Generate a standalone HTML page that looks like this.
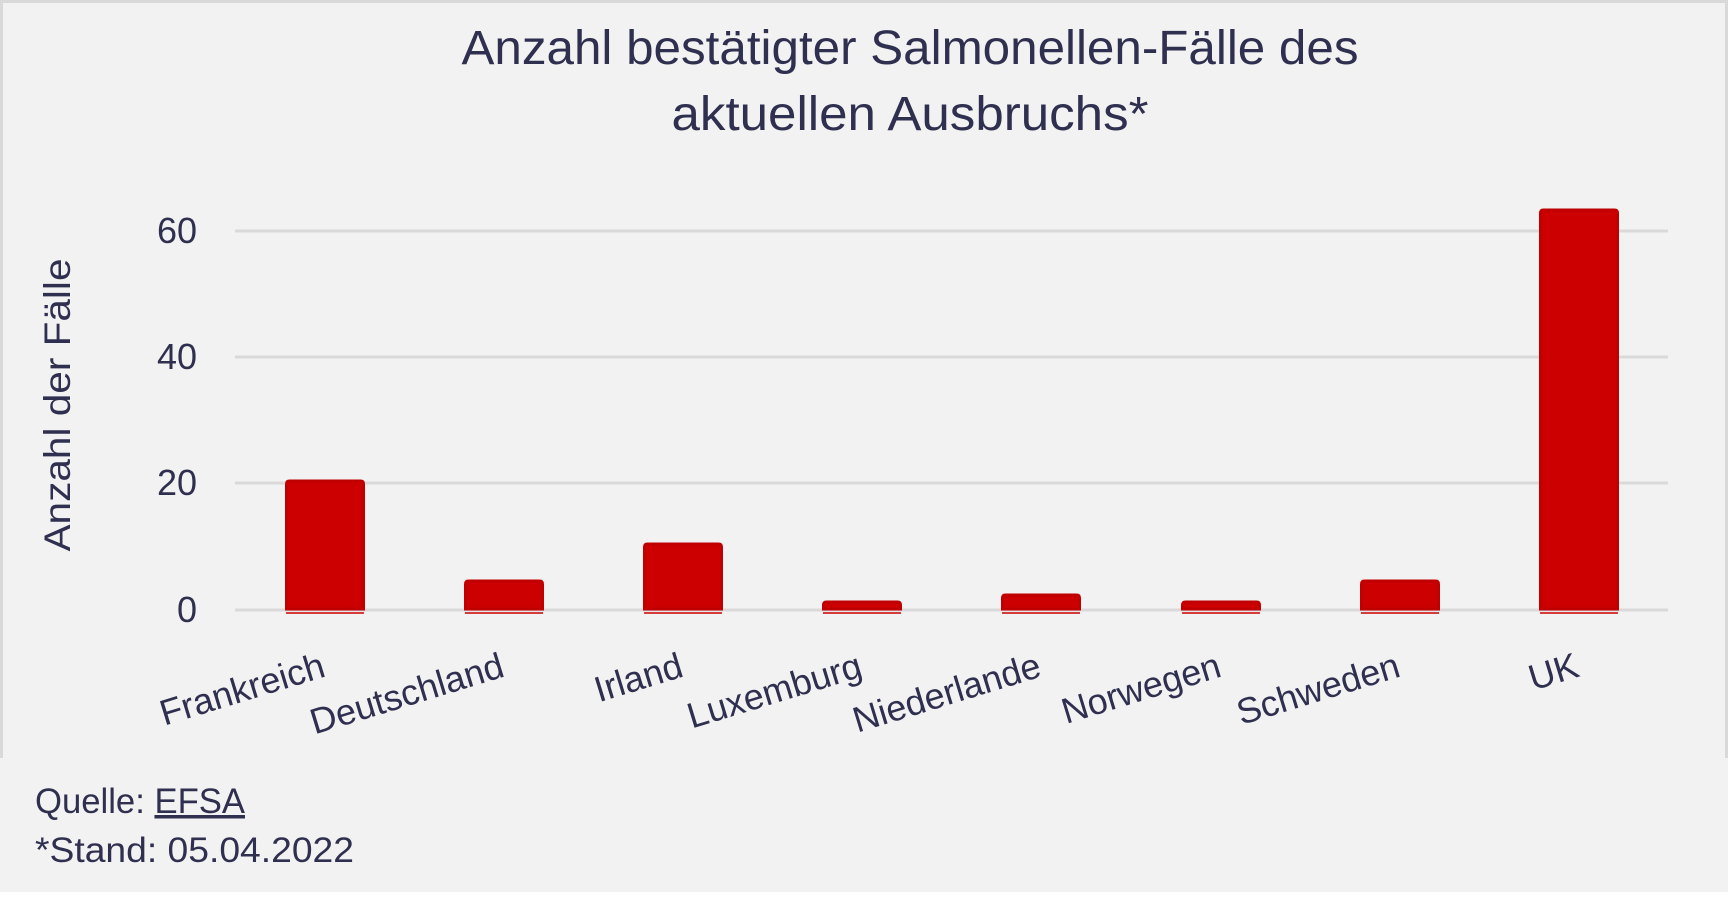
<!DOCTYPE html>
<html><head><meta charset="utf-8"><style>
html,body{margin:0;padding:0;background:#fff;}
svg{display:block;}
text{font-family:"Liberation Sans",sans-serif;fill:#2f2f4f;}
</style></head><body>
<svg width="1731" height="900" viewBox="0 0 1731 900" xmlns="http://www.w3.org/2000/svg">
<rect x="0" y="0" width="1728" height="892" fill="#f2f2f2"/>
<path d="M1.5 758 V1.5 H1726.5 V758" fill="none" stroke="#d9d9d9" stroke-width="3"/>
<text x="910" y="64" font-size="48" text-anchor="middle" textLength="897" lengthAdjust="spacingAndGlyphs">Anzahl bestätigter Salmonellen-Fälle des</text>
<text x="910" y="130" font-size="48" text-anchor="middle" textLength="477" lengthAdjust="spacingAndGlyphs">aktuellen Ausbruchs*</text>
<g stroke="#d9d9d9" stroke-width="3">
<line x1="235" y1="231" x2="1668" y2="231"/>
<line x1="235" y1="357" x2="1668" y2="357"/>
<line x1="235" y1="483" x2="1668" y2="483"/>
<line x1="235" y1="610" x2="1668" y2="610"/>
</g>
<g font-size="36" text-anchor="end">
<text x="197" y="243">60</text>
<text x="197" y="369">40</text>
<text x="197" y="495">20</text>
<text x="197" y="622">0</text>
</g>
<text transform="translate(70,405) rotate(-90)" font-size="37" text-anchor="middle" textLength="293" lengthAdjust="spacingAndGlyphs">Anzahl der Fälle</text>
<g fill="#cc0000" stroke="#c00000" stroke-width="3">
<path d="M286.5 609 V484 Q286.5 481 289.5 481 H360.5 Q363.5 481 363.5 484 V609 Z"/>
<path d="M465.5 609 V584 Q465.5 581 468.5 581 H539.5 Q542.5 581 542.5 584 V609 Z"/>
<path d="M644.5 609 V547 Q644.5 544 647.5 544 H718.5 Q721.5 544 721.5 547 V609 Z"/>
<path d="M823.5 609 V605 Q823.5 602 826.5 602 H897.5 Q900.5 602 900.5 605 V609 Z"/>
<path d="M1002.5 609 V598 Q1002.5 595 1005.5 595 H1076.5 Q1079.5 595 1079.5 598 V609 Z"/>
<path d="M1182.5 609 V605 Q1182.5 602 1185.5 602 H1256.5 Q1259.5 602 1259.5 605 V609 Z"/>
<path d="M1361.5 609 V584 Q1361.5 581 1364.5 581 H1435.5 Q1438.5 581 1438.5 584 V609 Z"/>
<path d="M1540.5 609 V213 Q1540.5 210 1543.5 210 H1614.5 Q1617.5 210 1617.5 213 V609 Z"/>
</g>
<g stroke="#cc0000" stroke-width="1.5">
<line x1="286" y1="613" x2="364" y2="613"/><line x1="465" y1="613" x2="543" y2="613"/>
<line x1="644" y1="613" x2="722" y2="613"/><line x1="823" y1="613" x2="901" y2="613"/>
<line x1="1002" y1="613" x2="1080" y2="613"/><line x1="1182" y1="613" x2="1260" y2="613"/>
<line x1="1361" y1="613" x2="1439" y2="613"/><line x1="1540" y1="613" x2="1618" y2="613"/>
</g>
<g font-size="36" text-anchor="end">
<text transform="translate(327,676) rotate(-17)">Frankreich</text>
<text transform="translate(506,676) rotate(-17)">Deutschland</text>
<text transform="translate(685,676) rotate(-17)">Irland</text>
<text transform="translate(864,676) rotate(-17)">Luxemburg</text>
<text transform="translate(1043,676) rotate(-17)">Niederlande</text>
<text transform="translate(1223,676) rotate(-17)">Norwegen</text>
<text transform="translate(1402,676) rotate(-17)">Schweden</text>
<text transform="translate(1581,676) rotate(-17)">UK</text>
</g>
<text x="35" y="813" font-size="35" textLength="210" lengthAdjust="spacingAndGlyphs">Quelle: <tspan text-decoration="underline">EFSA</tspan></text>
<text x="35" y="862" font-size="35" textLength="319" lengthAdjust="spacingAndGlyphs">*Stand: 05.04.2022</text>
</svg>
</body></html>
